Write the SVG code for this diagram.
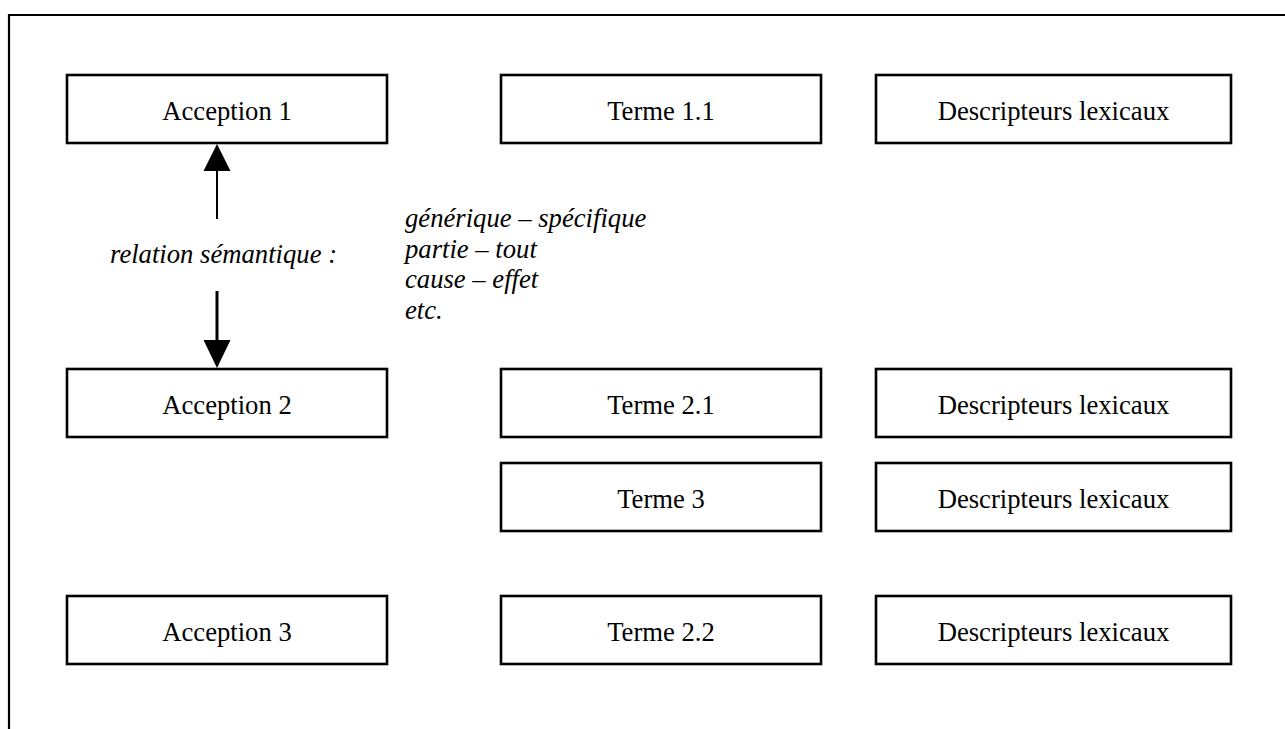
<svg xmlns="http://www.w3.org/2000/svg" width="1285" height="729" viewBox="0 0 1285 729">
<style>
.box rect{fill:#fff;stroke:#000;stroke-width:2.6}
.box text{font-family:"Liberation Serif","Times New Roman",serif;font-size:26.67px;text-anchor:middle;fill:#000}
.it{font-family:"Liberation Serif","Times New Roman",serif;font-size:26.67px;font-style:italic;fill:#000}
.frame{stroke:#000;stroke-width:2.2;fill:none}
</style>
<rect width="1285" height="729" fill="#fff"/>
<path class="frame" d="M1285 15 H9 V729"/>
<g id="acception1" class="box"><rect x="67" y="75" width="320" height="68"/><text x="227" y="120">Acception 1</text></g>
<g id="terme11" class="box"><rect x="501" y="75" width="320" height="68"/><text x="661" y="120">Terme 1.1</text></g>
<g id="desc1" class="box"><rect x="876" y="75" width="355" height="68"/><text x="1053.5" y="120">Descripteurs lexicaux</text></g>
<g id="acception2" class="box"><rect x="67" y="369" width="320" height="68"/><text x="227" y="414">Acception 2</text></g>
<g id="terme21" class="box"><rect x="501" y="369" width="320" height="68"/><text x="661" y="414">Terme 2.1</text></g>
<g id="desc2" class="box"><rect x="876" y="369" width="355" height="68"/><text x="1053.5" y="414">Descripteurs lexicaux</text></g>
<g id="terme3" class="box"><rect x="501" y="463" width="320" height="68"/><text x="661" y="508">Terme 3</text></g>
<g id="desc3" class="box"><rect x="876" y="463" width="355" height="68"/><text x="1053.5" y="508">Descripteurs lexicaux</text></g>
<g id="acception3" class="box"><rect x="67" y="596" width="320" height="68"/><text x="227" y="641">Acception 3</text></g>
<g id="terme22" class="box"><rect x="501" y="596" width="320" height="68"/><text x="661" y="641">Terme 2.2</text></g>
<g id="desc4" class="box"><rect x="876" y="596" width="355" height="68"/><text x="1053.5" y="641">Descripteurs lexicaux</text></g>
<g id="relation-label"><text class="it" x="110" y="263">relation sémantique :</text></g>
<g id="relation-types" class="it">
<text x="405" y="227">générique – spécifique</text>
<text x="405" y="257.7">partie – tout</text>
<text x="405" y="288.3">cause – effet</text>
<text x="405" y="319">etc.</text>
</g>
<g id="connectors">
<line x1="217" y1="168" x2="217" y2="219" stroke="#000" stroke-width="2"/>
<polygon points="217,144 203.5,171 230.5,171" fill="#000"/>
<line x1="217" y1="291" x2="217" y2="342" stroke="#000" stroke-width="3"/>
<polygon points="217,368 203.5,340 230.5,340" fill="#000"/>
</g>
</svg>
